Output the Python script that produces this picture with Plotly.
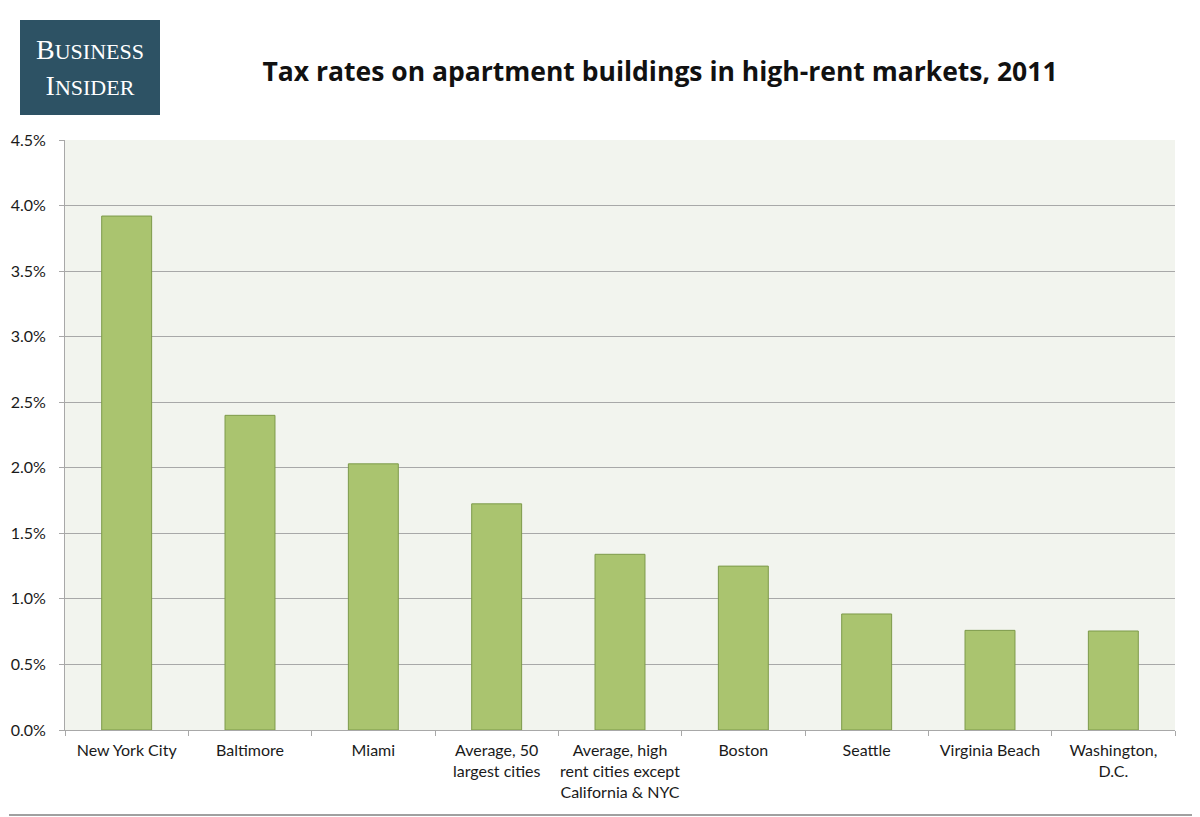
import plotly.graph_objects as go

# values
cities = ["New York City", "Baltimore", "Miami", "Average, 50<br>largest cities",
          "Average, high<br>rent cities except<br>California & NYC", "Boston",
          "Seattle", "Virginia Beach", "Washington,<br>D.C."]
tax_rate = [3.92, 2.40, 2.03, 1.725, 1.34, 1.25, 0.885, 0.76, 0.755]
y_ticks = [0, 0.5, 1.0, 1.5, 2.0, 2.5, 3.0, 3.5, 4.0, 4.5]

# page body has an 8px margin, so the figure is 8px smaller than the window
W, H = 1192, 809
L, R, T, B = 57, 25, 132, 87
pw, ph = W - L - R, H - T - B


def px(x):
    return (x - 8 - L) / pw


def py(y):
    return (H - B - (y - 8)) / ph


fig = go.Figure()
fig.add_trace(go.Bar(
    x=cities, y=tax_rate, width=0.405,
    marker=dict(color="#aac46f", line=dict(color="#7d9a4a", width=1)),
    hovertemplate="%{x}: %{y:.2f}%<extra></extra>",
))

fig.update_layout(
    width=W, height=H,
    margin=dict(l=L, r=R, t=T, b=B),
    paper_bgcolor="white", plot_bgcolor="#f2f4ee",
    font=dict(family="Lato, Open Sans, sans-serif", size=16, color="#1a1a1a"),
    showlegend=False,
    title=dict(text="<b>Tax rates on apartment buildings in high-rent markets, 2011</b>",
               x=(660 - 8) / W, xanchor="center", y=1 - 64 / H, yanchor="middle",
               font=dict(family="Open Sans, Lato, sans-serif", size=26.5, color="#111")),
)
fig.update_yaxes(range=[0, 4.5], tickvals=y_ticks,
                 ticktext=[f"{v:.1f}%" for v in y_ticks],
                 showgrid=True, gridcolor="#a8a8a8", gridwidth=1,
                 ticks="outside", ticklen=5, tickcolor="#a8a8a8",
                 ticklabelstandoff=10, automargin=False,
                 showline=True, linecolor="#a8a8a8", zeroline=False)
fig.update_xaxes(tickson="boundaries", ticks="outside", ticklen=5, tickcolor="#a8a8a8",
                 ticklabelstandoff=6, automargin=False,
                 showline=True, linecolor="#a8a8a8", tickangle=0)

# Business Insider logo
fig.add_shape(type="rect", xref="paper", yref="paper",
              x0=px(20), x1=px(160), y0=py(115), y1=py(20),
              fillcolor="#2d5264", line=dict(width=0))
fig.add_annotation(xref="paper", yref="paper", x=px(90), y=py(67),
                   xanchor="center", yanchor="middle",
                   text="B<span style='font-size:22px'>USINESS</span><br>I<span style='font-size:22px'>NSIDER</span>",
                   showarrow=False, align="center",
                   font=dict(family="Liberation Serif, serif", size=28, color="white"))

# right and bottom edge of the outer border
fig.add_shape(type="line", xref="paper", yref="paper",
              x0=px(1195), x1=px(1195), y0=py(815), y1=py(9),
              line=dict(color="#a0a0a0", width=2))
fig.add_shape(type="line", xref="paper", yref="paper",
              x0=px(9), x1=px(1195), y0=py(815), y1=py(815),
              line=dict(color="#a0a0a0", width=2))

fig.write_html("out.html")
